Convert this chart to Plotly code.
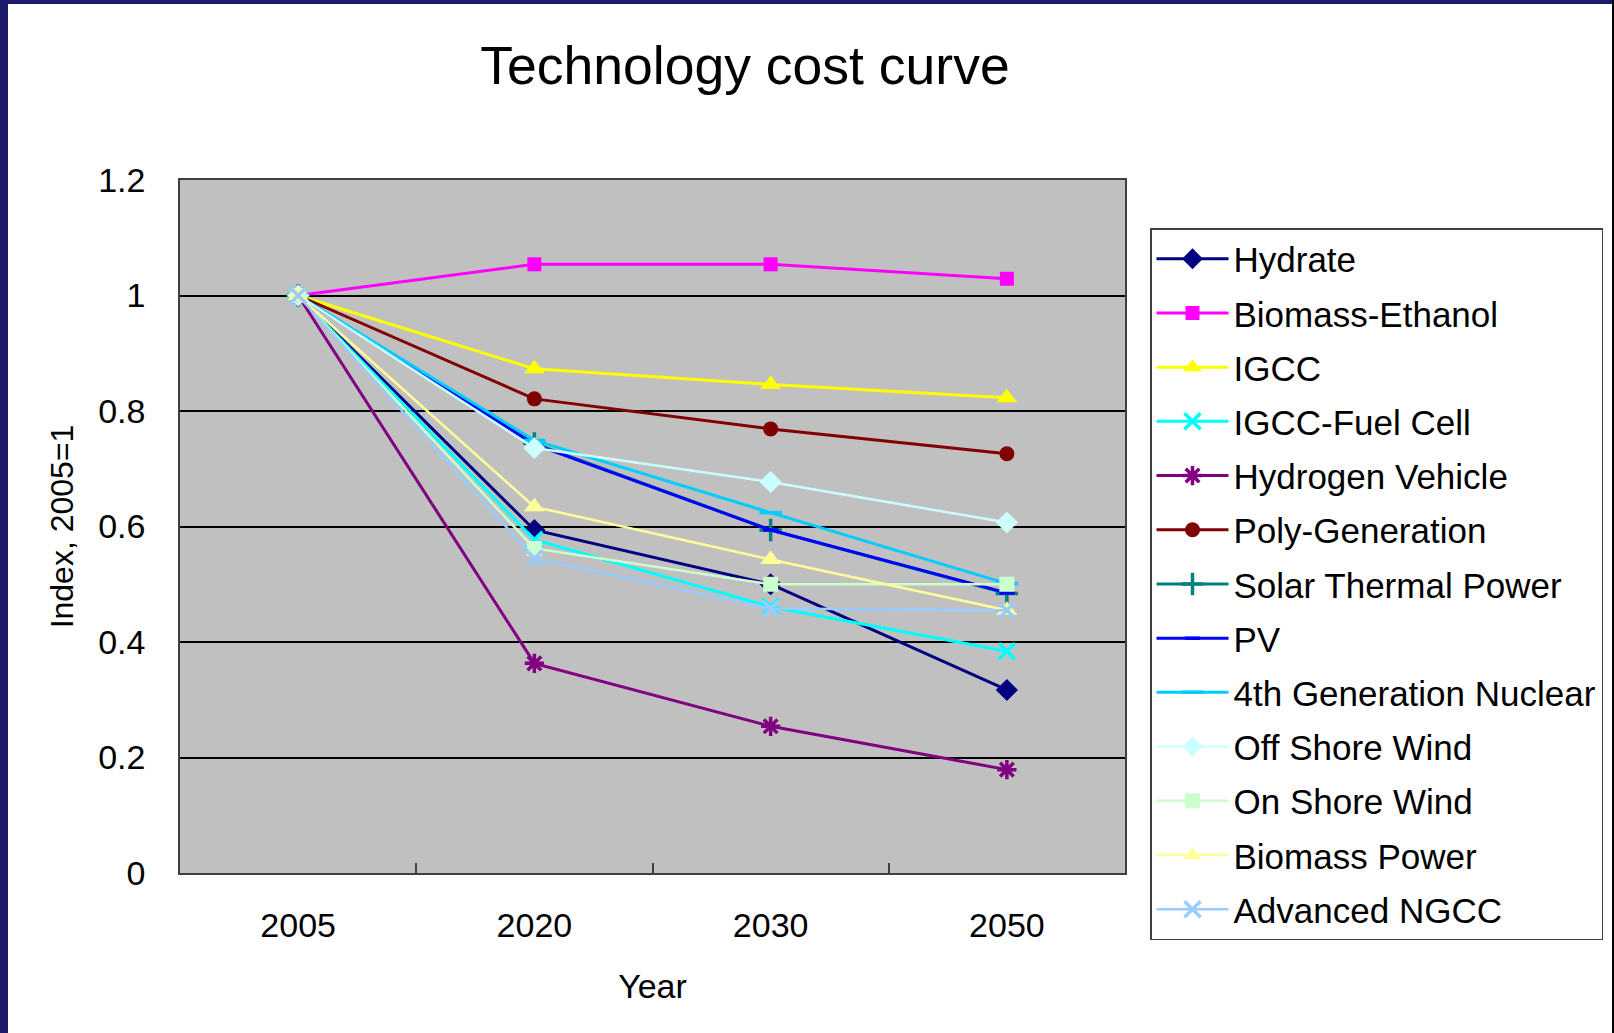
import plotly.graph_objects as go

# ---------------- data ----------------
years = ["2005", "2020", "2030", "2050"]

hydrate = [1.0, 0.594, 0.500, 0.317]
biomass_ethanol = [1.0, 1.054, 1.054, 1.029]
igcc = [1.0, 0.873, 0.846, 0.823]
igcc_fuel_cell = [1.0, 0.577, 0.461, 0.384]
hydrogen_vehicle = [1.0, 0.363, 0.254, 0.179]
poly_generation = [1.0, 0.821, 0.769, 0.726]
solar_thermal_power = [1.0, 0.744, 0.594, 0.484]
pv = [1.0, 0.742, 0.594, 0.485]
nuclear_4th_gen = [1.0, 0.749, 0.624, 0.501]
off_shore_wind = [1.0, 0.736, 0.677, 0.607]
on_shore_wind = [1.0, 0.562, 0.500, 0.500]
biomass_power = [1.0, 0.634, 0.543, 0.455]
advanced_ngcc = [1.0, 0.545, 0.458, 0.455]

y_ticks = [0, 0.2, 0.4, 0.6, 0.8, 1.0, 1.2]

series = [
    ("Hydrate", hydrate),
    ("Biomass-Ethanol", biomass_ethanol),
    ("IGCC", igcc),
    ("IGCC-Fuel Cell", igcc_fuel_cell),
    ("Hydrogen Vehicle", hydrogen_vehicle),
    ("Poly-Generation", poly_generation),
    ("Solar Thermal Power", solar_thermal_power),
    ("PV", pv),
    ("4th Generation Nuclear", nuclear_4th_gen),
    ("Off Shore Wind", off_shore_wind),
    ("On Shore Wind", on_shore_wind),
    ("Biomass Power", biomass_power),
    ("Advanced NGCC", advanced_ngcc),
]

# ---------------- styles ----------------
styles = {
    "Hydrate": dict(color="#000080", symbol="diamond", size=17, width=3),
    "Biomass-Ethanol": dict(color="#FF00FF", symbol="square", size=14, width=3),
    "IGCC": dict(color="#FFFF00", symbol="triangle-up", size=18, width=3),
    "IGCC-Fuel Cell": dict(color="#00FFFF", symbol="x-thin", size=16, width=3),
    "Hydrogen Vehicle": dict(color="#800080", symbol="asterisk", size=16, width=3),
    "Poly-Generation": dict(color="#800000", symbol="circle", size=15, width=3),
    "Solar Thermal Power": dict(color="#008080", symbol="cross-thin", size=16, width=3),
    "PV": dict(color="#0000FF", symbol="line-ew", size=11, width=3),
    "4th Generation Nuclear": dict(color="#00CCFF", symbol="line-ew", size=16, width=3),
    "Off Shore Wind": dict(color="#CCFFFF", symbol="diamond", size=17, width=2.5),
    "On Shore Wind": dict(color="#CCFFCC", symbol="square", size=15, width=2.5),
    "Biomass Power": dict(color="#FFFF99", symbol="triangle-up", size=18, width=2.5),
    "Advanced NGCC": dict(color="#99CCFF", symbol="x-thin", size=16, width=2.5),
}
open_symbols = {"x-thin", "asterisk", "cross-thin", "line-ew"}

FONT = "Liberation Sans, Arial, sans-serif"
W, H = 1614, 1033
ML, MR, MT, MB = 180, 489, 180, 160
PW, PH = W - ML - MR, H - MT - MB

def px_x(px):
    return (px - ML) / PW

def px_y(py):
    return (H - MB - py) / PH

fig = go.Figure()
for name, vals in series:
    st = styles[name]
    is_open = st["symbol"] in open_symbols
    fig.add_trace(go.Scatter(
        x=years, y=vals, name=name, mode="lines+markers",
        legendgroup=name,
        line=dict(color=st["color"], width=st["width"]),
        marker=dict(
            symbol=st["symbol"], size=st["size"], color=st["color"],
            line=dict(color=st["color"], width=3.5 if is_open else 0),
        ),
    ))

# decorative frame of the slide
shapes = [
    dict(type="rect", xref="paper", yref="paper",
         x0=px_x(0), x1=px_x(8), y0=px_y(H), y1=px_y(0),
         fillcolor="#1b1a6b", line=dict(width=0), layer="above"),
    dict(type="rect", xref="paper", yref="paper",
         x0=px_x(0), x1=px_x(W), y0=px_y(4), y1=px_y(0),
         fillcolor="#1b1a6b", line=dict(width=0), layer="above"),
    dict(type="rect", xref="paper", yref="paper",
         x0=px_x(W - 2), x1=px_x(W), y0=px_y(H), y1=px_y(0),
         fillcolor="#000000", line=dict(width=0), layer="above"),
]

fig.update_layout(
    width=W, height=H,
    margin=dict(l=ML, r=MR, t=MT, b=MB, autoexpand=False),
    paper_bgcolor="white",
    plot_bgcolor="#C0C0C0",
    font=dict(family=FONT, color="black", size=34),
    title=dict(text="Technology cost curve", font=dict(size=53.5, family=FONT, color="black"),
               xref="container", x=745 / W, xanchor="center",
               yref="container", y=1 - 65 / H, yanchor="middle"),
    showlegend=True,
    legend=dict(
        x=px_x(1150), y=px_y(228), xanchor="left", yanchor="top",
        bgcolor="white", bordercolor="#404040", borderwidth=1.5,
        font=dict(size=35, family=FONT, color="black"),
        traceorder="grouped", tracegroupgap=5.7, itemwidth=72,
        maxheight=800,
    ),
    shapes=shapes,
)

fig.update_xaxes(
    type="category", range=[-0.5, 3.5],
    showgrid=False, showline=True, mirror=True, linecolor="#404040", linewidth=1.5,
    ticks="inside", tickson="boundaries", ticklen=10, tickcolor="#404040", tickwidth=1.5,
    ticklabelstandoff=21,
    tickfont=dict(size=34, family=FONT, color="black"),
    title=dict(text="Year", font=dict(size=34, family=FONT, color="black"), standoff=32),
)
fig.update_yaxes(
    range=[0, 1.2], tickvals=y_ticks, ticktext=[f"{v:g}" for v in y_ticks],
    showgrid=True, gridcolor="#000000", gridwidth=1.5, zeroline=False,
    showline=True, mirror=True, linecolor="#404040", linewidth=1.5,
    ticks="", ticklabelstandoff=26,
    tickfont=dict(size=34, family=FONT, color="black"),
    title=dict(text="Index, 2005=1", font=dict(size=32, family=FONT, color="black"), standoff=15),
)

fig.write_html("out.html", config={"displayModeBar": False},
               post_script="document.body.style.margin='0';")
